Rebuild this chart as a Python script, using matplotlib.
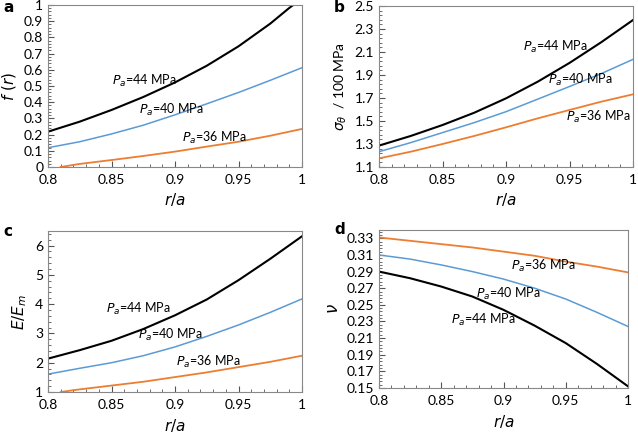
import matplotlib.pyplot as plt
from matplotlib.ticker import MultipleLocator, AutoMinorLocator

plt.rcParams['font.family'] = ['Lato', 'DejaVu Sans']
plt.rcParams['mathtext.fontset'] = 'dejavusans'

# r/a sample points
x = [0.8, 0.825, 0.85, 0.875, 0.9, 0.925, 0.95, 0.975, 1.0]
x_a44 = [0.8, 0.825, 0.85, 0.875, 0.9, 0.925, 0.95, 0.975, 0.99, 1.0]
x_36 = [0.81, 0.825, 0.85, 0.875, 0.9, 0.925, 0.95, 0.975, 1.0]

# panel a: f(r)
fa_44 = [0.218, 0.28, 0.352, 0.432, 0.522, 0.625, 0.745, 0.885, 0.982, 1.04]
fa_40 = [0.119, 0.156, 0.204, 0.258, 0.322, 0.39, 0.46, 0.535, 0.613]
fa_36 = [0.0, 0.019, 0.043, 0.068, 0.095, 0.126, 0.156, 0.193, 0.235]

# panel b: sigma_theta / 100 MPa
sb_44 = [1.286, 1.37, 1.465, 1.572, 1.697, 1.842, 2.005, 2.185, 2.378]
sb_40 = [1.233, 1.312, 1.399, 1.486, 1.581, 1.69, 1.8, 1.912, 2.036]
sb_36 = [1.175, 1.233, 1.3, 1.37, 1.445, 1.523, 1.596, 1.668, 1.732]

# panel c: E/Em
ec_44 = [2.14, 2.43, 2.75, 3.15, 3.62, 4.16, 4.82, 5.55, 6.32]
ec_40 = [1.61, 1.81, 2.0, 2.24, 2.54, 2.9, 3.29, 3.72, 4.18]
ec_36 = [1.0, 1.09, 1.22, 1.35, 1.51, 1.67, 1.85, 2.03, 2.24]

# panel d: Poisson ratio
vd_44 = [0.290, 0.282, 0.272, 0.26, 0.244, 0.225, 0.204, 0.179, 0.152]
vd_40 = [0.31, 0.305, 0.298, 0.29, 0.281, 0.27, 0.257, 0.241, 0.224]
vd_36 = [0.331, 0.327, 0.323, 0.319, 0.314, 0.309, 0.302, 0.296, 0.289]

labels = ['$P_a$=44 MPa', '$P_a$=40 MPa', '$P_a$=36 MPa']
c44, c40, c36 = 'black', '#5B9BD5', '#ED7D31'

fig = plt.figure(figsize=(6.38, 4.33), dpi=100)
W, H = 638, 433


def make_ax(l, t, r, b):
    return fig.add_axes([l / W, 1 - b / H, (r - l) / W, (b - t) / H])


fmt = plt.FuncFormatter(lambda v, p: '%g' % round(v, 3))


def style(ax, ylim, ystep, yoff=0.0):
    ax.set_xlim(0.8, 1.0)
    ax.set_ylim(*ylim)
    ax.xaxis.set_major_locator(MultipleLocator(0.05))
    ax.yaxis.set_major_locator(MultipleLocator(ystep, offset=yoff))
    ax.xaxis.set_minor_locator(AutoMinorLocator(5))
    ax.yaxis.set_minor_locator(AutoMinorLocator(5))
    ax.tick_params(which='both', direction='in', labelsize=10, color='#555555')
    ax.tick_params(which='major', length=4)
    ax.tick_params(which='minor', length=2.5)
    ax.tick_params(axis='x', which='major', pad=5)
    for s in ax.spines.values():
        s.set_color('#888888')
    ax.xaxis.set_major_formatter(fmt)
    ax.yaxis.set_major_formatter(fmt)
    ax.set_xlabel('$r/a$', fontsize=11, labelpad=4)


def curves(ax, x44, y44, y40, x36, y36):
    ax.plot(x44, y44, color=c44, lw=1.5)
    ax.plot(x, y40, color=c40, lw=1.1)
    ax.plot(x36, y36, color=c36, lw=1.3)


def panel_letter(px, py, s):
    fig.text(px / W, 1 - py / H, s, fontsize=11, fontweight='bold',
             family='DejaVu Sans', va='center')


# a
ax = make_ax(48, 5, 302, 167)
curves(ax, x_a44, fa_44, fa_40, x_36, fa_36)
style(ax, (0, 1), 0.1)
ax.set_ylabel('$f\\ (r)$', fontsize=11)
ax.text(0.850, 0.53, labels[0], fontsize=9, va='center')
ax.text(0.872, 0.355, labels[1], fontsize=9, va='center')
ax.text(0.9055, 0.18, labels[2], fontsize=9, va='center')
panel_letter(3, 7, 'a')

# b
ax = make_ax(379, 6, 633, 167)
curves(ax, x, sb_44, sb_40, x, sb_36)
style(ax, (1.1, 2.5), 0.2, 0.1)
ax.set_ylabel('$\\sigma_\\theta$  / 100 MPa', fontsize=10)
ax.text(0.913, 2.14, labels[0], fontsize=9, va='center')
ax.text(0.933, 1.856, labels[1], fontsize=9, va='center')
ax.text(0.947, 1.536, labels[2], fontsize=9, va='center')
panel_letter(334, 7, 'b')

# c
ax = make_ax(48, 231, 302, 392)
curves(ax, x, ec_44, ec_40, x_36, ec_36)
style(ax, (1, 6.5), 1)
ax.set_ylabel('$E/E_m$', fontsize=11)
ax.text(0.846, 3.83, labels[0], fontsize=9, va='center')
ax.text(0.871, 2.95, labels[1], fontsize=9, va='center')
ax.text(0.901, 2.03, labels[2], fontsize=9, va='center')
panel_letter(3, 231, 'c')

# d
ax = make_ax(379, 230, 628, 388)
curves(ax, x, vd_44, vd_40, x, vd_36)
style(ax, (0.15, 0.34), 0.02, 0.01)
ax.set_ylabel('$\\nu$', fontsize=12)
ax.text(0.906, 0.297, labels[2], fontsize=9, va='center')
ax.text(0.878, 0.263, labels[1], fontsize=9, va='center')
ax.text(0.858, 0.232, labels[0], fontsize=9, va='center')
panel_letter(334, 230, 'd')

fig.savefig('out.png', dpi=100)
